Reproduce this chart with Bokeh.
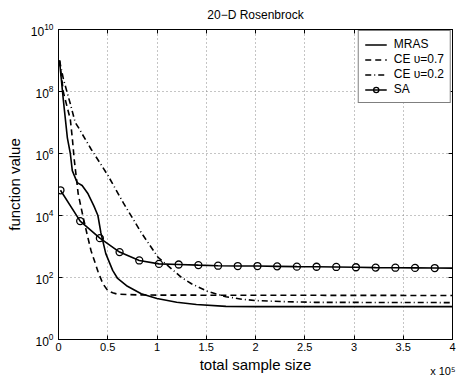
from bokeh.plotting import figure
from bokeh.models import (Range1d, FixedTicker, LinearAxis, LogAxis, Title,
                          CustomJSTickFormatter, Legend)
from bokeh.embed import file_html
from bokeh.resources import INLINE

# ---- data (x in units of 10^5 samples) ----
mras_x = [0.01, 0.05, 0.09, 0.12, 0.14, 0.19, 0.24, 0.30, 0.36, 0.40, 0.43, 0.48, 0.55,
          0.60, 0.70, 0.84, 1.00, 1.20, 1.40, 1.70, 2.00, 4.00]
mras_y = [1.0e9, 5.0e7, 3.2e6, 1.0e6, 2.8e5, 1.15e5, 9.3e4, 5.0e4, 2.0e4, 1.0e4, 2.8e3,
          5.9e2, 1.7e2, 93, 52, 30, 21, 16, 13.5, 11.7, 11.5, 11.5]

ce07_x = [0.01, 0.05, 0.12, 0.14, 0.16, 0.20, 0.25, 0.29, 0.33, 0.40, 0.45, 0.50, 0.55,
          0.60, 0.80, 1.00, 4.00]
ce07_y = [1.0e9, 9.3e7, 1.26e7, 3.2e6, 6.3e5, 5.0e4, 8.9e3, 2.5e3, 7.4e2, 1.6e2, 63, 38,
          32, 29, 27.5, 27, 26.3]

ce02_x = [0.01, 0.05, 0.12, 0.17, 0.20, 0.28, 0.33, 0.50, 0.66, 0.84, 1.01, 1.25, 1.35,
          1.52, 1.70, 1.86, 2.00, 2.30, 2.60, 4.00]
ce02_y = [1.0e9, 2.5e8, 4.0e7, 1.0e7, 7.1e6, 2.6e6, 1.4e6, 2.0e5, 2.5e4, 2.8e3, 4.5e2,
          1.0e2, 63, 35, 24, 20, 18, 16.6, 15.8, 15.5]

sa_x = [0.02, 0.22, 0.42, 0.62, 0.82, 1.02, 1.22, 1.42, 1.62, 1.82, 2.02, 2.22, 2.42,
        2.62, 2.82, 3.02, 3.22, 3.42, 3.62, 3.82, 4.00]
sa_y = [6.5e4, 6.6e3, 1.86e3, 6.6e2, 3.55e2, 2.75e2, 2.63e2, 2.51e2, 2.40e2, 2.34e2,
        2.34e2, 2.29e2, 2.24e2, 2.22e2, 2.19e2, 2.14e2, 2.09e2, 2.07e2, 2.04e2, 2.02e2,
        2.00e2]
sa_mark_x = sa_x[:-1]
sa_mark_y = sa_y[:-1]

x_ticks = [0, 0.5, 1, 1.5, 2, 2.5, 3, 3.5, 4]
x_tick_labels = ["0", "0.5", "1", "1.5", "2", "2.5", "3", "3.5", "4"]
y_ticks = [1, 1e2, 1e4, 1e6, 1e8, 1e10]
x_multiplier = "x 10\u2075"
chart_title = "20\u2212D Rosenbrock"

FONT = "Liberation Sans"

p = figure(width=456, height=383, y_axis_type="log", output_backend="svg",
           toolbar_location=None, min_border_left=58, min_border_right=4,
           min_border_top=29, min_border_bottom=44,
           x_range=Range1d(0, 4), y_range=Range1d(1, 1e10))
p.background_fill_color = "white"
p.border_fill_color = "white"
p.outline_line_color = "black"
p.outline_line_width = 1

# axes
xa = p.xaxis[0]
xa.ticker = FixedTicker(ticks=x_ticks)
xa.major_label_overrides = {t: l for t, l in zip(x_ticks, x_tick_labels)}
xa.axis_label = "total sample size"
ya = p.yaxis[0]
ya.ticker = FixedTicker(ticks=y_ticks)
ya.axis_label = "function value"
for ax in (xa, ya):
    ax.axis_label_text_font = FONT
    ax.axis_label_text_font_size = "15px"
    ax.axis_label_text_font_style = "normal"
    ax.axis_label_text_color = "black"
    ax.major_label_text_font = FONT
    ax.major_label_text_font_size = "11px"
    ax.major_label_text_color = "black"
    ax.major_tick_in = 4
    ax.major_tick_out = 0
    ax.minor_tick_in = 0
    ax.minor_tick_out = 0
    ax.axis_line_color = "black"
    ax.major_tick_line_color = "black"
ya.major_label_text_font_size = "12px"
xa.axis_label_standoff = 2
xa.major_label_standoff = 3
ya.axis_label_standoff = 5
ya.major_label_standoff = 5

blank = CustomJSTickFormatter(code="return ''")
# top axis carries the inward ticks and the chart title as its label
top = LinearAxis(ticker=FixedTicker(ticks=x_ticks), formatter=blank,
                 major_tick_in=4, major_tick_out=0, minor_tick_in=0, minor_tick_out=0,
                 major_label_text_font_size="1px", major_label_standoff=0,
                 axis_label=chart_title, axis_label_text_font=FONT,
                 axis_label_text_font_size="12px", axis_label_text_font_style="normal",
                 axis_label_text_color="black", axis_label_standoff=8)
right = LogAxis(ticker=FixedTicker(ticks=y_ticks), formatter=blank,
                major_tick_in=4, major_tick_out=0, minor_tick_in=0, minor_tick_out=0,
                major_label_text_font_size="1px", major_label_standoff=0)
p.add_layout(top, "above")
p.add_layout(right, "right")

for g in (p.xgrid[0], p.ygrid[0]):
    g.grid_line_color = "#8a8a8a"
    g.grid_line_dash = "1 3"
    g.grid_line_width = 1
p.xgrid[0].ticker = FixedTicker(ticks=x_ticks)
p.ygrid[0].ticker = FixedTicker(ticks=y_ticks)

lw = 1.6
r1 = p.line(mras_x, mras_y, line_color="black", line_width=lw)
r2 = p.line(ce07_x, ce07_y, line_color="black", line_width=lw, line_dash="6 4")
r3 = p.line(ce02_x, ce02_y, line_color="black", line_width=lw, line_dash="6 3 1 3")
r4 = p.line(sa_x, sa_y, line_color="black", line_width=lw)
r5 = p.scatter(sa_mark_x, sa_mark_y, marker="circle", size=7, fill_color=None,
               line_color="black", line_width=1.3)

legend = Legend(items=[("MRAS", [r1]), ("CE \u03c5=0.7", [r2]),
                       ("CE \u03c5=0.2", [r3]), ("SA", [r4, r5])],
                location="top_right")
legend.label_text_font = FONT
legend.label_text_font_size = "12px"
legend.label_text_color = "black"
legend.border_line_color = "black"
legend.border_line_width = 1
legend.background_fill_alpha = 1
legend.margin = 1
legend.padding = 6
legend.spacing = 1
legend.label_height = 13
legend.glyph_height = 13
legend.glyph_width = 22
legend.label_standoff = 7
p.add_layout(legend, "center")

# axis multiplier "x 10^5" below the right end of the x axis
mult = Title(text=x_multiplier, align="right", vertical_align="top", text_font=FONT,
             text_font_size="11px", text_font_style="normal", text_color="black",
             standoff=-22, offset=-3)
p.add_layout(mult, "below")

open("out.html", "w").write(file_html(p, INLINE))
